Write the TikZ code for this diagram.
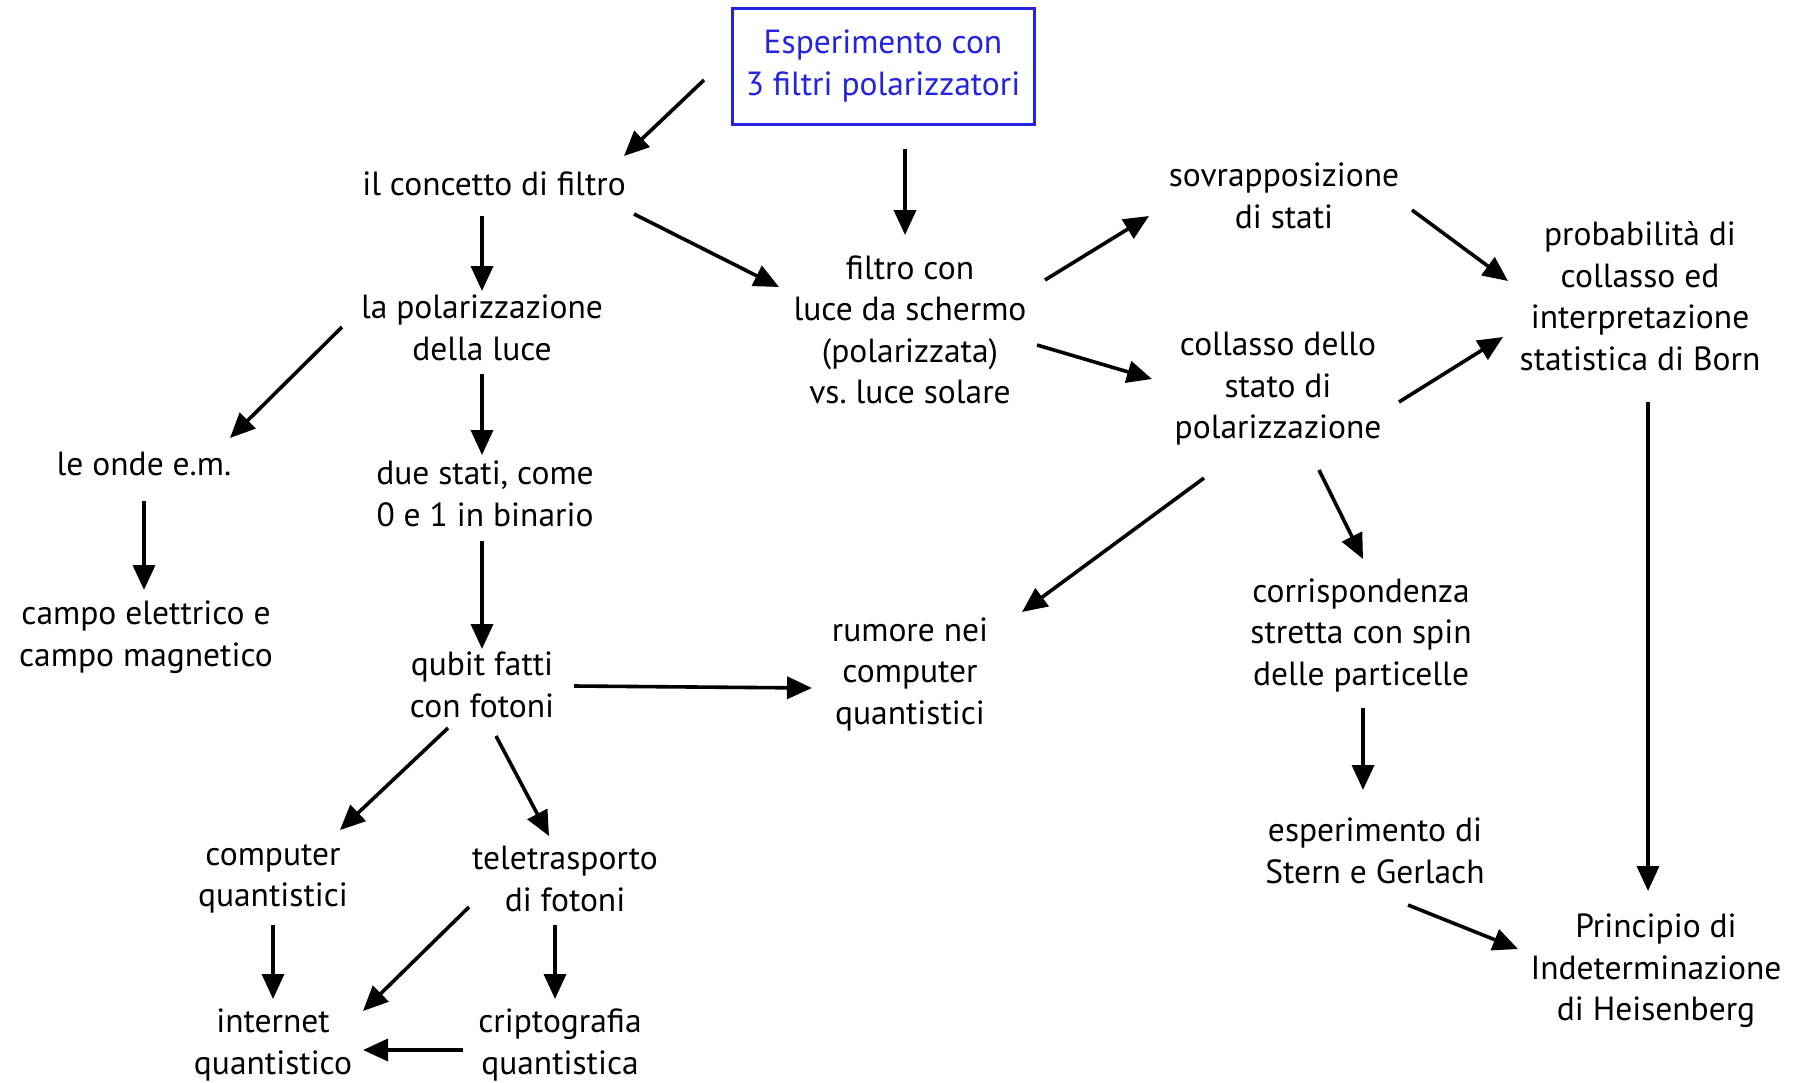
\documentclass[tikz,border=0pt]{standalone}
\usepackage{fontspec}
\setmainfont{PT Sans}
\usetikzlibrary{arrows.meta,calc}
\definecolor{boxblue}{RGB}{35,35,225}
\begin{document}
\frenchspacing
\begin{tikzpicture}[x=1pt,y=-1pt,
  concept/.style={align=center,inner sep=0pt,font=\fontsize{33.5}{41.5}\selectfont},
  startbox/.style={concept,draw=boxblue,text=boxblue,line width=3pt,minimum width=302pt,minimum height=116pt},
  arr/.style={line width=3.6pt,-{Triangle[length=25pt,width=22pt]}}]
\useasboundingbox (0,0) rectangle (1801,1082);
\fill[white] (0,0) rectangle (1801,1082);

% concepts
\node[startbox] (B) at (883,66) {Esperimento con\\3 filtri polarizzatori};
\node[concept] (C) at (494,184) {il concetto di filtro};
\node[concept] (P) at (482,328) {la polarizzazione\\della luce};
\node[concept] (O) at (144,464) {le onde e.m.};
\node[concept] (D) at (485,494) {due stati, come\\0 e 1 in binario};
\node[concept] (E) at (146,637) {campo elettrico e\\campo magnetico};
\node[concept] (Q) at (482,685) {qubit fatti\\con fotoni};
\node[concept] (R) at (910,674) {rumore nei\\computer\\quantistici};
\node[concept] (CQ) at (273,879) {computer\\quantistici};
\node[concept] (T) at (565,879) {teletrasporto\\di fotoni};
\node[concept] (I) at (273,1045) {internet\\quantistico};
\node[concept] (K) at (560,1045) {criptografia\\quantistica};
\node[concept] (F) at (910,330) {filtro con\\luce da schermo\\(polarizzata)\\vs. luce solare};
\node[concept] (S) at (1284,196) {sovrapposizione\\di stati};
\node[concept] (L) at (1278,389) {collasso dello\\stato di\\polarizzazione};
\node[concept] (PB) at (1640,296) {probabilità di\\collasso ed\\interpretazione\\statistica di Born};
\node[concept] (CO) at (1361,635) {corrispondenza\\stretta con spin\\delle particelle};
\node[concept] (SG) at (1375,851) {esperimento di\\Stern e Gerlach};
\node[concept] (H) at (1656,971) {Principio di\\Indeterminazione\\di Heisenberg};

% connectors
\draw[arr] ($(B)+(-179,14)$) -- ($(C)+(130,-28)$);
\draw[arr] ($(B)+(22,83)$) -- ($(F)+(-5,-95)$);
\draw[arr] ($(C)+(-12,32)$) -- ($(P)+(0,-37)$);
\draw[arr] ($(C)+(140,30)$) -- ($(F)+(-131,-43)$);
\draw[arr] ($(P)+(-140,-1)$) -- ($(O)+(86,-26)$);
\draw[arr] ($(P)+(0,46)$) -- ($(D)+(-3,-39)$);
\draw[arr] ($(O)+(0,37)$) -- ($(E)+(-2,-47)$);
\draw[arr] ($(D)+(-3,47)$) -- ($(Q)+(0,-36)$);
\draw[arr] ($(Q)+(92,1)$) -- ($(R)+(-98,14)$);
\draw[arr] ($(Q)+(-34,43)$) -- ($(CQ)+(67,-49)$);
\draw[arr] ($(Q)+(14,51)$) -- ($(T)+(-16,-43)$);
\draw[arr] ($(CQ)+(0,46)$) -- ($(I)+(0,-46)$);
\draw[arr] ($(T)+(-96,28)$) -- ($(I)+(90,-34)$);
\draw[arr] ($(T)+(-10,46)$) -- ($(K)+(-5,-46)$);
\draw[arr] ($(K)+(-97,5)$) -- ($(I)+(90,5)$);
\draw[arr] ($(F)+(135,-50)$) -- ($(S)+(-135,20)$);
\draw[arr] ($(F)+(127,15)$) -- ($(L)+(-126,-10)$);
\draw[arr] ($(S)+(128,14)$) -- ($(PB)+(-132,-15)$);
\draw[arr] ($(L)+(121,13)$) -- ($(PB)+(-137,41)$);
\draw[arr] ($(L)+(-74,89)$) -- ($(R)+(112,-62)$);
\draw[arr] ($(L)+(41,81)$) -- ($(CO)+(2,-76)$);
\draw[arr] ($(CO)+(2,73)$) -- ($(SG)+(-12,-61)$);
\draw[arr] ($(PB)+(8,106)$) -- ($(H)+(-8,-80)$);
\draw[arr] ($(SG)+(33,54)$) -- ($(H)+(-138,-22)$);
\end{tikzpicture}
\end{document}
